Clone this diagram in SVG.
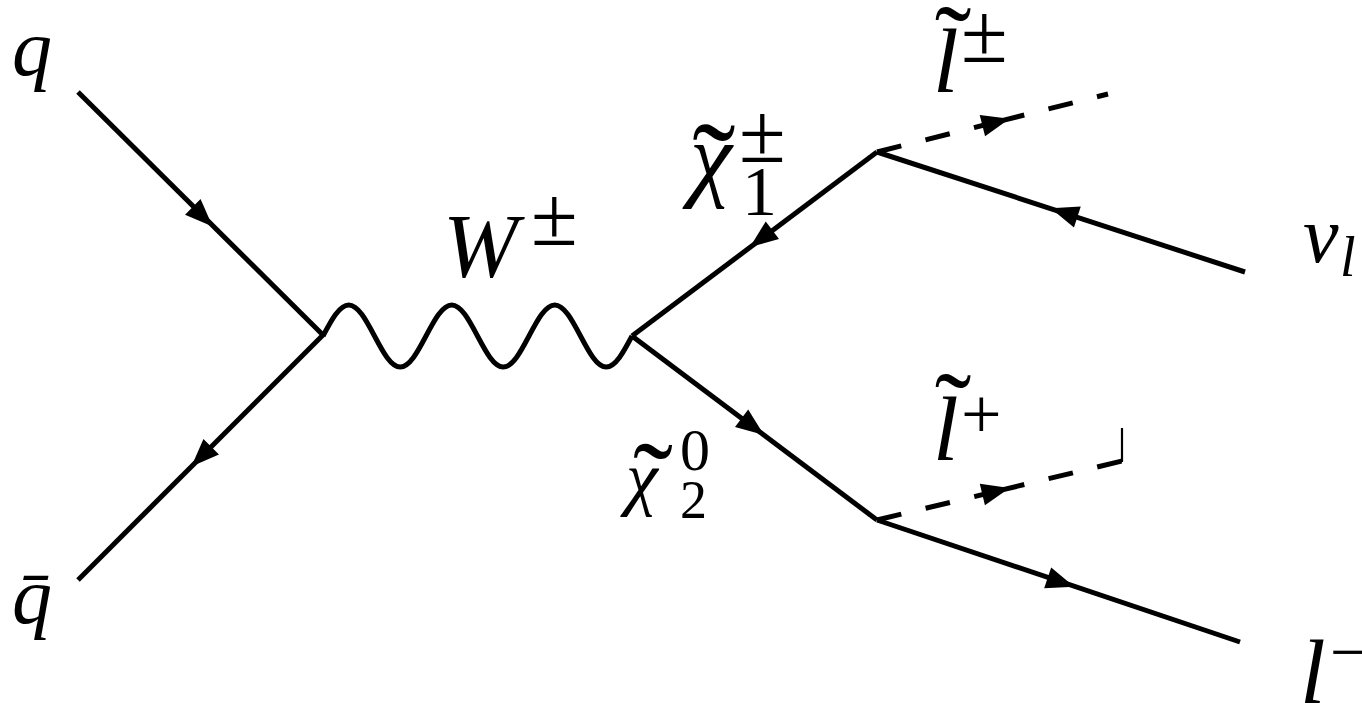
<svg xmlns="http://www.w3.org/2000/svg" width="1362" height="703" viewBox="0 0 1362 703">
<style>
.ln{fill:none;stroke:#000;stroke-width:5;stroke-linecap:butt;stroke-linejoin:miter}
.ds{stroke-dasharray:25 25}
.tk{fill:none;stroke:#000;stroke-width:2.2}
.ah{fill:#000;stroke:none}
text{fill:#000;font-family:"Liberation Serif","DejaVu Serif","Times New Roman",serif}
.v{font-style:italic}
</style>
<defs>
<path id="arr" d="M15,0 L-13,-11 L-13,11 Z"/>
</defs>
<rect width="1362" height="703" fill="#fff"/>
<g id="connectors">
<line class="ln" x1="78" y1="92" x2="323" y2="335"/>
<line class="ln" x1="323" y1="335" x2="78" y2="580"/>
<path class="ln" d="M323,336 c8.41,-15.9 16.43,-31 25.75,-31 c9.32,0 17.34,15.1 25.75,31 c8.41,15.9 16.43,31 25.75,31 c9.32,0 17.34,-15.1 25.75,-31 c8.41,-15.9 16.43,-31 25.75,-31 c9.32,0 17.34,15.1 25.75,31 c8.41,15.9 16.43,31 25.75,31 c9.32,0 17.34,-15.1 25.75,-31 c8.41,-15.9 16.43,-31 25.75,-31 c9.32,0 17.34,15.1 25.75,31 c8.41,15.9 16.43,31 25.75,31 c9.32,0 17.34,-15.1 25.75,-31"/>
<line class="ln" x1="632" y1="336" x2="877" y2="152"/>
<line class="ln" x1="632" y1="336" x2="877" y2="520"/>
<line class="ln ds" x1="877" y1="152" x2="1000" y2="121.1"/>
<line class="ln ds" x1="1000" y1="121.1" x2="1108" y2="94"/>
<line class="ln" x1="877" y1="152" x2="1245" y2="272"/>
<line class="ln ds" x1="877" y1="520" x2="1000" y2="490.4"/>
<line class="ln ds" x1="1000" y1="490.4" x2="1122" y2="461"/>
<line class="tk" x1="1122" y1="462" x2="1122" y2="428"/>
<line class="ln" x1="877" y1="520" x2="1240" y2="642"/>
<use href="#arr" class="ah" transform="translate(202,216) rotate(44.8)"/>
<use href="#arr" class="ah" transform="translate(202,456) rotate(135)"/>
<use href="#arr" class="ah" transform="translate(762,238) rotate(143)"/>
<use href="#arr" class="ah" transform="translate(752,426) rotate(36.8)"/>
<use href="#arr" class="ah" transform="translate(995,122.5) rotate(-14.1)"/>
<use href="#arr" class="ah" transform="translate(1065,213) rotate(198)"/>
<use href="#arr" class="ah" transform="translate(995,491.5) rotate(-13.5)"/>
<use href="#arr" class="ah" transform="translate(1060,582) rotate(18.6)"/>
</g>
<g id="q"><text class="v" x="12" y="75" font-size="80">q</text></g>
<g id="qbar"><text class="v" x="12" y="623" font-size="80">q̄</text></g>
<g id="W"><text class="v" x="443" y="277" font-size="90">W</text><text x="531" y="245" font-size="85">±</text></g>
<g id="chi1"><text class="v" x="690" y="189" font-size="95">χ</text><text x="714" y="212" font-size="130" text-anchor="middle">˜</text><text x="739" y="162" font-size="85">±</text><text x="742" y="215" font-size="70">1</text></g>
<g id="chi2"><text class="v" x="626" y="502" font-size="72">χ</text><text x="653" y="525" font-size="120" text-anchor="middle">˜</text><text x="680" y="470" font-size="60">0</text><text x="680" y="518" font-size="54">2</text></g>
<g id="slep1"><text class="v" x="933" y="92" font-size="92">l</text><text x="953" y="81" font-size="110" text-anchor="middle">˜</text><text x="961" y="62" font-size="85">±</text></g>
<g id="slep2"><text class="v" x="933" y="460" font-size="92">l</text><text x="953" y="448" font-size="110" text-anchor="middle">˜</text><text x="961" y="438" font-size="72">+</text></g>
<g id="nu"><text class="v" x="1303" y="262" font-size="80">ν</text><text class="v" x="1340" y="276" font-size="56">l</text></g>
<g id="lminus"><text class="v" x="1300" y="703" font-size="92">l</text><text x="1330" y="674" font-size="66">−</text></g>
</svg>
